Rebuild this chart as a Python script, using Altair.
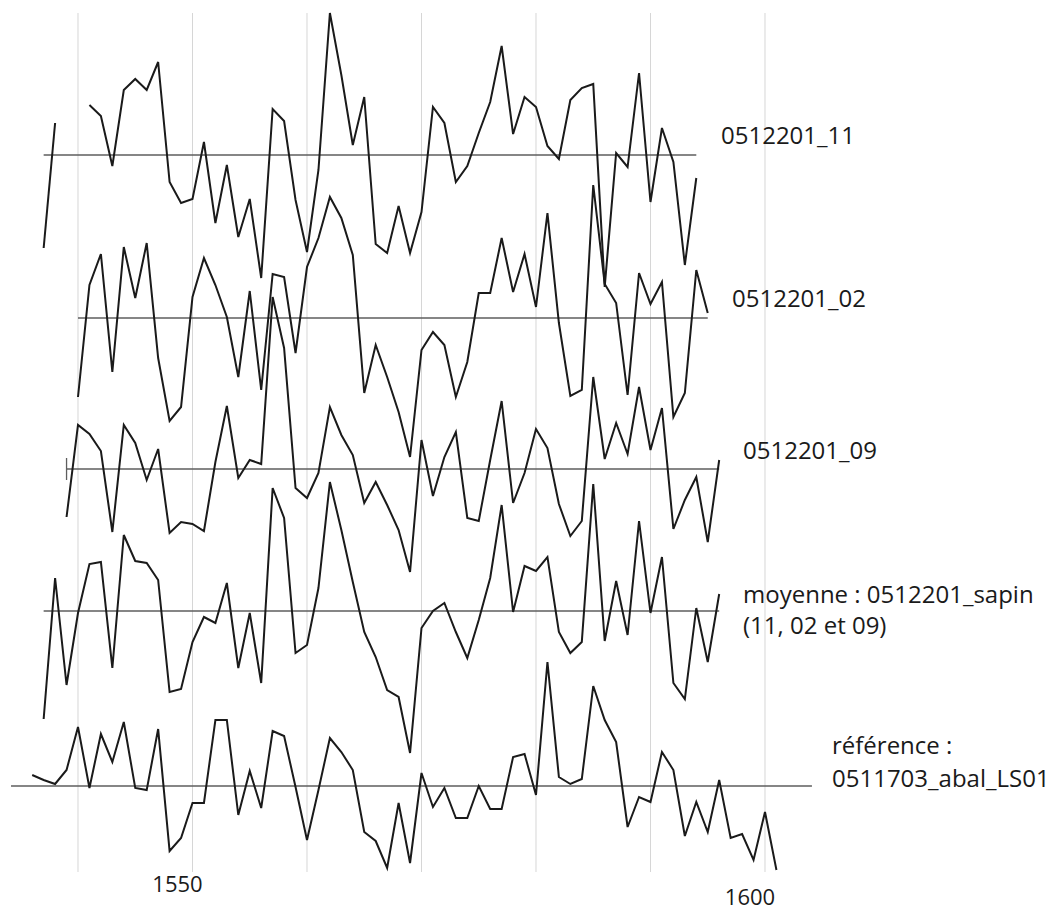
import altair as alt
import pandas as pd

# ---- data (deviations from each series' own baseline) ----
SERIES = ["0512201_11", "0512201_02", "0512201_09", "moyenne", "reference"]

START_11 = 1537
VALUES_11 = [-93, 32, None, None, 50, 39, -11, 65, 76, 65, 93, -27, -48, -44, 13, -68, -10,
             -82, -44, -123, 46, 34, -45, -97, -15, 142, 80, 10, 58, -89, -98, -51, -98, -57,
             48, 32, -27, -11, 22, 53, 109, 21, 58, 48, 9, -4, 55, 67, 71, -132, 2, -12, 82,
             -47, 27, -7, -110, -23]

START_02 = 1540
VALUES_02 = [-79, 33, 64, -54, 71, 20, 75, -40, -103, -89, 21, 60, 33, 1, -59, 27, -72, 44,
             41, -35, 51, 80, 121, 100, 63, -75, -27, -59, -94, -139, -32, -14, -27, -79, -44,
             25, 25, 80, 26, 64, 11, 105, -5, -78, -72, 133, 34, 15, -77, 45, 14, 36, -99,
             -75, 48, 5]

START_09 = 1539
VALUES_09 = [-48, 44, 35, 18, -63, 44, 26, -11, 20, -64, -53, -55, -62, 7, 63, -9, 9, 5, 172,
             121, -19, -29, -4, 62, 34, 14, -34, -13, -36, -61, -103, 29, -27, 12, 37, -49,
             -52, 9, 68, -34, -4, 40, 21, -35, -67, -52, 92, 10, 46, 15, 82, 19, 61, -60, -31,
             -8, -73, 9]

START_MOY = 1537
VALUES_MOY = [-108, 33, -74, -2, 47, 49, -57, 76, 50, 48, 31, -81, -78, -31, -6, -12, 28, -57,
              -2, -72, 123, 93, -42, -34, 23, 129, 81, 29, -21, -46, -79, -86, -142, -17, 0, 8,
              -21, -47, -9, 33, 106, -1, 45, 40, 54, -21, -42, -31, 127, -30, 30, -24, 90, -2,
              54, -72, -88, 3, -51, 17]

START_REF = 1536
VALUES_REF = [11, 6, 2, 16, 59, -2, 52, 24, 64, -2, -4, 57, -65, -52, -17, -17, 66, 66, -29,
              15, -22, 55, 50, -1, -54, -4, 48, 34, 16, -46, -55, -82, -17, -77, 13, -21, -2,
              -32, -32, 0, -23, -23, 29, 32, -9, 124, 9, 2, 7, 100, 66, 44, -41, -11, -16, 34,
              16, -50, -16, -46, 6, -52, -48, -74, -26, -84]

STARTS = [START_11, START_02, START_09, START_MOY, START_REF]
VALUES = [VALUES_11, VALUES_02, VALUES_09, VALUES_MOY, VALUES_REF]

# vertical stacking of the series (each has its own zero line)
OFFSETS = [748, 585, 434, 292, 117]
BASE_START = [1537, 1540, 1539, 1537, 1534.15]
BASE_END = [1594, 1595, 1596, 1596, 1604.1]

GRID_YEARS = [1540, 1550, 1560, 1570, 1580, 1590, 1600]
TICK_YEARS = [1550, 1600]

LABELS = ["0512201_11", "0512201_02", "0512201_09", "moyenne : 0512201_sapin",
          "(11, 02 et 09)", "référence :", "0511703_abal_LS01"]

# ---- build tables ----
rows = []
for name, start, vals, off in zip(SERIES, STARTS, VALUES, OFFSETS):
    seg = 0
    for i, v in enumerate(vals):
        if v is None:
            seg += 1
            continue
        rows.append({"serie": name, "segment": f"{name}-{seg}", "annee": start + i,
                     "valeur": v, "pos": off + v})
lines_df = pd.DataFrame(rows)

base_df = pd.DataFrame({"serie": SERIES, "debut": BASE_START, "fin": BASE_END, "pos": OFFSETS})
grid_df = pd.DataFrame({"annee": GRID_YEARS})
tick_df = pd.DataFrame({"annee": TICK_YEARS, "label": [str(t) for t in TICK_YEARS]})
mark09_df = pd.DataFrame({"annee": [START_09], "y1": [OFFSETS[2] - 11], "y2": [OFFSETS[2] + 11]})

W, H = 1044, 903
xscale = alt.Scale(domain=[1533.8865, 1625.066], nice=False, zero=False)
yscale = alt.Scale(domain=[-8, 895], nice=False, zero=False)

grid = alt.Chart(grid_df).mark_rule(color="#d6d6d6", strokeWidth=1).encode(
    x=alt.X("annee:Q", scale=xscale, axis=None),
    y=alt.value(5), y2=alt.value(864),
)

baselines = alt.Chart(base_df).mark_rule(color="#5e5e5e", strokeWidth=1.3).encode(
    x=alt.X("debut:Q", scale=xscale, axis=None),
    x2="fin:Q",
    y=alt.Y("pos:Q", scale=yscale, axis=None),
)

mark09 = alt.Chart(mark09_df).mark_rule(color="#5e5e5e", strokeWidth=1.3).encode(
    x=alt.X("annee:Q", scale=xscale, axis=None),
    y=alt.Y("y1:Q", scale=yscale, axis=None),
    y2="y2:Q",
)

lines = alt.Chart(lines_df).mark_line(
    color="#1a1a1a", strokeWidth=2, strokeJoin="miter", strokeMiterLimit=4
).encode(
    x=alt.X("annee:Q", scale=xscale, axis=None),
    y=alt.Y("pos:Q", scale=yscale, axis=None),
    detail="segment:N",
    order="annee:Q",
)

FONT = "Open Sans"
txt_style = dict(font=FONT, fontSize=24, color="#1a1a1a", align="left", baseline="middle")

label_pos = [(721, 137), (732, 300), (743, 452), (743, 596), (743, 627), (832, 747), (832, 780)]
label_layers = []
for text, (px, py) in zip(LABELS, label_pos):
    label_layers.append(
        alt.Chart(grid_df.head(1)).mark_text(text=text, **txt_style).encode(
            x=alt.value(px - 8), y=alt.value(py - 8)
        )
    )

tick_y = {1550: 885 - 8, 1600: 898 - 8}
tick_layers = []
for yr in TICK_YEARS:
    tick_layers.append(
        alt.Chart(tick_df).transform_filter(alt.datum.annee == yr).mark_text(
            font=FONT, fontSize=22, color="#1a1a1a", align="center", baseline="middle", dx=-15
        ).encode(
            x=alt.X("annee:Q", scale=xscale, axis=None),
            y=alt.value(tick_y[yr]),
            text="label:N",
        )
    )

chart = alt.layer(grid, baselines, mark09, lines, *label_layers, *tick_layers).properties(
    width=W, height=H, autosize=alt.AutoSizeParams(type="none"), padding=0,
    background="white"
).configure_view(stroke=None, strokeWidth=0)

chart.save("out.html", embed_options={"renderer": "svg", "actions": False})
